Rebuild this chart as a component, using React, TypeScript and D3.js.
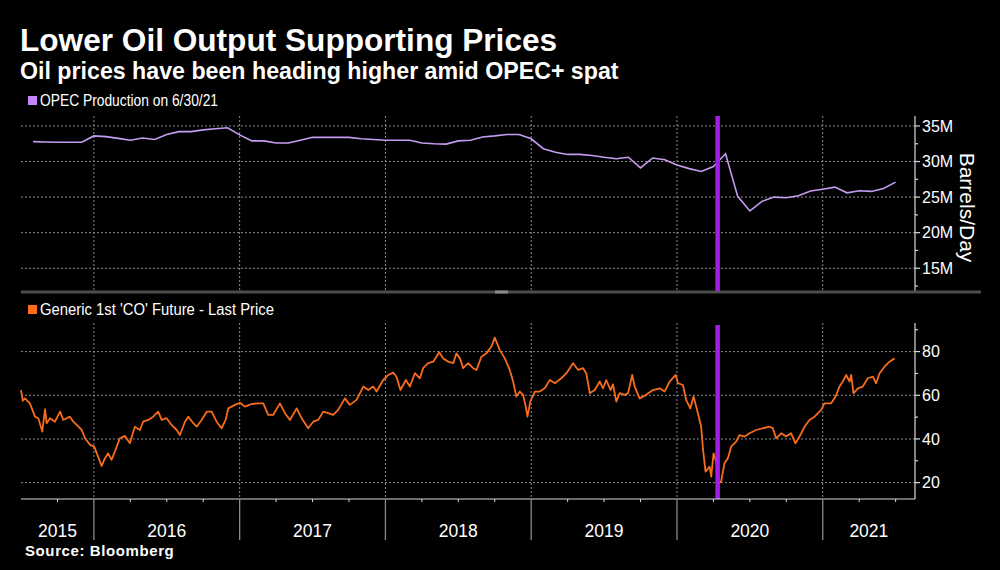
import React from 'react';
import * as d3 from 'd3';

// ---------- DATA ----------
const titleText = 'Lower Oil Output Supporting Prices';
const subtitleText = 'Oil prices have been heading higher amid OPEC+ spat';
const sourceText = 'Source: Bloomberg';
const opecLabel = 'OPEC Production on 6/30/21';
const priceLabel = "Generic 1st 'CO' Future - Last Price";
const unitLabel = 'Barrels/Day';

// OPEC production (million barrels/day), month-end, Jul 2015 .. Jun 2021
const opecStartYear = 2015;
const opecStartMonth = 7;
const opecValues = [
  32.8, 32.75, 32.7, 32.7, 32.7, 33.6,
  33.5, 33.25, 33.0, 33.3, 33.1, 33.8, 34.2, 34.2, 34.45, 34.6, 34.75, 33.75,
  32.9, 32.9, 32.6, 32.6, 33.0, 33.4, 33.4, 33.4, 33.4, 33.2, 33.1, 33.0,
  33.0, 33.0, 32.6, 32.5, 32.45, 32.9, 33.0, 33.45, 33.6, 33.8, 33.8, 33.2,
  31.8, 31.3, 31.0, 31.0, 30.85, 30.6, 30.4, 30.6, 29.1, 30.5, 30.25, 29.5,
  29.0, 28.6, 29.3, 31.1, 25.1, 23.05, 24.4, 25.0, 24.9, 25.2, 25.85, 26.1,
  26.4, 25.6, 25.9, 25.8, 26.2, 27.1,
];

// Brent generic 1st future (USD), time as decimal year
const priceYears = [
  2015.500, 2015.512, 2015.527, 2015.561, 2015.596, 2015.619, 2015.646, 2015.665, 2015.676, 2015.699,
  2015.733, 2015.768, 2015.790, 2015.836, 2015.859, 2015.894, 2015.917, 2015.939, 2015.974, 2016.002,
  2016.029, 2016.053, 2016.075, 2016.098, 2016.121, 2016.144, 2016.178, 2016.213, 2016.247, 2016.281,
  2016.316, 2016.338, 2016.373, 2016.407, 2016.441, 2016.465, 2016.499, 2016.533, 2016.568, 2016.590,
  2016.625, 2016.647, 2016.682, 2016.705, 2016.739, 2016.774, 2016.808, 2016.842, 2016.876, 2016.904,
  2016.922, 2016.968, 2017.002, 2017.036, 2017.082, 2017.127, 2017.162, 2017.196, 2017.230, 2017.276,
  2017.311, 2017.345, 2017.391, 2017.425, 2017.470, 2017.505, 2017.539, 2017.573, 2017.608, 2017.642,
  2017.676, 2017.722, 2017.756, 2017.802, 2017.848, 2017.882, 2017.916, 2017.939, 2017.985, 2018.019,
  2018.053, 2018.076, 2018.103, 2018.140, 2018.168, 2018.202, 2018.236, 2018.259, 2018.293, 2018.328,
  2018.369, 2018.396, 2018.431, 2018.465, 2018.487, 2018.511, 2018.533, 2018.568, 2018.602, 2018.624,
  2018.659, 2018.693, 2018.727, 2018.750, 2018.784, 2018.819, 2018.853, 2018.876, 2018.898, 2018.922,
  2018.944, 2018.963, 2018.974, 2018.994, 2019.025, 2019.059, 2019.093, 2019.128, 2019.162, 2019.207,
  2019.242, 2019.287, 2019.322, 2019.356, 2019.378, 2019.402, 2019.436, 2019.470, 2019.493, 2019.515,
  2019.545, 2019.561, 2019.584, 2019.607, 2019.641, 2019.664, 2019.693, 2019.710, 2019.744, 2019.789,
  2019.835, 2019.881, 2019.915, 2019.950, 2019.991, 2020.007, 2020.041, 2020.063, 2020.091, 2020.114,
  2020.132, 2020.150, 2020.166, 2020.178, 2020.196, 2020.224, 2020.235, 2020.251, 2020.269, 2020.287,
  2020.303, 2020.326, 2020.349, 2020.372, 2020.406, 2020.429, 2020.464, 2020.498, 2020.543, 2020.589,
  2020.635, 2020.658, 2020.680, 2020.715, 2020.749, 2020.783, 2020.813, 2020.841, 2020.875, 2020.909,
  2020.944, 2020.989, 2021.012, 2021.058, 2021.088, 2021.115, 2021.138, 2021.161, 2021.184, 2021.195,
  2021.211, 2021.241, 2021.275, 2021.309, 2021.344, 2021.366, 2021.390, 2021.424, 2021.458, 2021.493,
];
const priceValues = [
  62.4, 57.5, 58.6, 56.3, 50.2, 49.5, 43.4, 53.6, 47.2, 49.5,
  47.9, 52.5, 48.7, 50.2, 47.9, 45.6, 44.1, 40.3, 37.3, 36.5,
  31.9, 27.6, 31.1, 33.4, 30.4, 34.2, 40.3, 41.4, 38.0, 45.6,
  44.1, 47.9, 48.7, 50.2, 52.5, 48.7, 49.5, 46.4, 44.1, 41.8,
  47.9, 50.2, 47.2, 45.6, 48.7, 52.5, 52.5, 47.9, 44.9, 48.7,
  54.0, 55.6, 56.6, 54.8, 56.0, 56.3, 56.3, 51.0, 51.0, 56.3,
  51.8, 48.7, 54.0, 49.5, 44.9, 47.9, 48.7, 52.5, 51.8, 51.0,
  53.3, 58.6, 55.6, 57.9, 64.0, 62.4, 64.0, 61.7, 67.0, 69.3,
  70.4, 68.5, 62.4, 67.0, 64.0, 70.1, 67.8, 72.4, 74.7, 75.4,
  79.7, 76.9, 75.4, 74.7, 79.2, 76.9, 72.4, 74.7, 72.4, 71.6,
  77.7, 79.2, 82.3, 86.4, 80.8, 76.9, 71.6, 66.3, 59.4, 61.7,
  60.2, 54.8, 50.2, 57.1, 61.7, 61.7, 63.2, 67.0, 65.5, 67.8,
  70.1, 74.7, 71.6, 72.4, 70.1, 60.9, 62.4, 66.3, 63.2, 67.0,
  62.4, 65.0, 57.1, 61.0, 60.2, 60.9, 69.3, 64.0, 58.6, 60.2,
  62.4, 63.2, 61.7, 66.3, 69.3, 65.5, 64.7, 57.9, 54.0, 59.4,
  54.8, 50.2, 45.6, 35.7, 25.0, 27.3, 22.7, 33.4, 29.6, 19.7,
  20.5, 28.9, 31.1, 36.5, 38.8, 41.8, 41.1, 42.6, 44.1, 44.9,
  45.6, 44.9, 40.3, 42.6, 41.1, 42.6, 38.0, 41.1, 45.6, 48.7,
  50.2, 53.3, 56.3, 56.3, 59.4, 64.0, 66.3, 69.3, 66.3, 69.3,
  60.9, 63.2, 64.0, 67.8, 68.5, 65.5, 70.1, 73.1, 75.4, 76.9,
];

const yearLabels = ['2015', '2016', '2017', '2018', '2019', '2020', '2021'];
const topTicks = [15, 20, 25, 30, 35];
const topMinorTicks = [12.5, 17.5, 22.5, 27.5, 32.5];
const bottomTicks = [20, 40, 60, 80];
const bottomMinorTicks = [30, 50, 70, 90];
const markerYear = 2020.279; // 12 Apr 2020 OPEC+ agreement

// ---------- LAYOUT ----------
const W = 1000;
const H = 570;
const plotLeft = 21;
const plotRight = 915;
const topY0 = 116;
const topY1 = 291;
const botY0 = 323;
const botY1 = 499;

const PURPLE_LINE = '#c69cf2';
const PURPLE_MARK = '#a21ee8';
const ORANGE = '#f76c1c';
const GRID = '#8c8c8c';
const AXIS = '#d8d8d8';
const SANS = "'Liberation Sans', Arial, sans-serif";

export default function App() {
  const x = d3.scaleLinear().domain([2015.5, 2021.633]).range([plotLeft, plotRight]);
  const yTop = d3.scaleLinear().domain([11.8, 36.4]).range([topY1, topY0]);
  const yBot = d3.scaleLinear().domain([12.5, 93.1]).range([botY1, botY0]);

  const opecPts = opecValues.map((v, i) => ({
    t: opecStartYear + (opecStartMonth + i) / 12,
    v,
  }));
  const pricePts = priceYears.map((t, i) => ({ t, v: priceValues[i] }));

  const opecLine = d3.line<{ t: number; v: number }>()
    .x((d) => x(d.t))
    .y((d) => yTop(d.v));
  const priceLine = d3.line<{ t: number; v: number }>()
    .x((d) => x(d.t))
    .y((d) => yBot(d.v));

  const years = yearLabels.map((s) => +s);
  const boundaries = years.filter((y) => y > 2015.5 && y < 2021.633);
  const quarterTicks: number[] = [];
  years.forEach((y) => {
    [0.25, 0.5, 0.75].forEach((q) => {
      const t = y + q;
      if (t > 2015.5 && t < 2021.63) quarterTicks.push(t);
    });
  });
  const [d0, d1] = x.domain();

  return (
    <svg
      width={W}
      height={H}
      style={{ position: 'absolute', left: 0, top: 0, background: '#000' }}
    >
      <rect x={0} y={0} width={W} height={H} fill="#000" />

      {/* titles */}
      <text x={20} y={51} fill="#fff" fontFamily={SANS} fontWeight="bold" fontSize={31.6}>
        {titleText}
      </text>
      <text x={20} y={78.5} fill="#fff" fontFamily={SANS} fontWeight="bold" fontSize={23.2}>
        {subtitleText}
      </text>

      {/* legend top */}
      <rect x={28} y={96} width={9} height={9} fill="#c584ff" />
      <text x={40} y={106} fill="#fff" fontFamily={SANS} fontSize={16}
        textLength={178} lengthAdjust="spacingAndGlyphs">
        {opecLabel}
      </text>

      {/* top panel grid */}
      {topTicks.map((t) => (
        <line key={'tg' + t} x1={plotLeft} x2={plotRight} y1={yTop(t)} y2={yTop(t)}
          stroke={GRID} strokeWidth={1} strokeDasharray="2,2" />
      ))}
      {boundaries.map((b) => (
        <line key={'tv' + b} x1={x(b)} x2={x(b)} y1={topY0} y2={topY1}
          stroke={GRID} strokeWidth={1} strokeDasharray="2,2" />
      ))}

      {/* top right axis */}
      <line x1={plotRight} x2={plotRight} y1={topY0} y2={topY1} stroke={AXIS} strokeWidth={1.2} />
      {topTicks.map((t) => (
        <g key={'tt' + t}>
          <line x1={plotRight} x2={plotRight + 5} y1={yTop(t)} y2={yTop(t)} stroke={AXIS} strokeWidth={1.2} />
          <text x={plotRight + 7} y={yTop(t)} dy="0.36em" fill="#fff" fontFamily={SANS} fontSize={16}>
            {t + 'M'}
          </text>
        </g>
      ))}
      {topMinorTicks.map((t) => (
        <line key={'tm' + t} x1={plotRight} x2={plotRight + 3} y1={yTop(t)} y2={yTop(t)} stroke={AXIS} strokeWidth={1.2} />
      ))}
      <text
        transform={`translate(${960},${(topY0 + topY1) / 2 + 4}) rotate(90)`}
        textAnchor="middle"
        fill="#fff"
        fontFamily={SANS}
        fontSize={21}
      >
        {unitLabel}
      </text>

      {/* OPEC line */}
      <path d={opecLine(opecPts) || ''} fill="none" stroke={PURPLE_LINE} strokeWidth={1.6} />

      {/* panel divider */}
      <rect x={plotLeft} y={290.5} width={981 - plotLeft} height={3} fill="#4d4d4d" />
      <rect x={495} y={290.5} width={13} height={3} fill="#8a8a8a" />

      {/* legend bottom */}
      <rect x={28} y={305} width={9} height={9} fill="#ff6a16" />
      <text x={40} y={315} fill="#fff" fontFamily={SANS} fontSize={16}
        textLength={234} lengthAdjust="spacingAndGlyphs">
        {priceLabel}
      </text>

      {/* bottom grid */}
      {bottomTicks.map((t) => (
        <line key={'bg' + t} x1={plotLeft} x2={plotRight} y1={yBot(t)} y2={yBot(t)}
          stroke={GRID} strokeWidth={1} strokeDasharray="2,2" />
      ))}
      {boundaries.map((b) => (
        <line key={'bv' + b} x1={x(b)} x2={x(b)} y1={botY0} y2={botY1}
          stroke={GRID} strokeWidth={1} strokeDasharray="2,2" />
      ))}

      {/* bottom right axis */}
      <line x1={plotRight} x2={plotRight} y1={botY0} y2={botY1} stroke={AXIS} strokeWidth={1.2} />
      {bottomTicks.map((t) => (
        <g key={'bt' + t}>
          <line x1={plotRight} x2={plotRight + 5} y1={yBot(t)} y2={yBot(t)} stroke={AXIS} strokeWidth={1.2} />
          <text x={plotRight + 7} y={yBot(t)} dy="0.36em" fill="#fff" fontFamily={SANS} fontSize={16}>
            {t}
          </text>
        </g>
      ))}
      {bottomMinorTicks.map((t) => (
        <line key={'bm' + t} x1={plotRight} x2={plotRight + 3} y1={yBot(t)} y2={yBot(t)} stroke={AXIS} strokeWidth={1.2} />
      ))}

      {/* price line */}
      <path d={priceLine(pricePts) || ''} fill="none" stroke={ORANGE} strokeWidth={1.8} strokeLinejoin="round" />

      {/* marker */}
      <line x1={x(markerYear)} x2={x(markerYear)} y1={topY0} y2={topY1} stroke={PURPLE_MARK} strokeWidth={4.5} />
      <line x1={x(markerYear)} x2={x(markerYear)} y1={botY0 + 2} y2={botY1} stroke={PURPLE_MARK} strokeWidth={4.5} />

      {/* x axis */}
      <line x1={plotLeft} x2={plotRight} y1={botY1} y2={botY1} stroke={AXIS} strokeWidth={1.2} />
      {quarterTicks.map((q) => (
        <line key={'q' + q} x1={x(q)} x2={x(q)} y1={botY1} y2={botY1 + 3} stroke={AXIS} strokeWidth={1} />
      ))}
      {boundaries.map((b) => (
        <line key={'yb' + b} x1={x(b)} x2={x(b)} y1={botY1} y2={540} stroke="#8a8a8a" strokeWidth={1.3} />
      ))}
      {years.map((y) => {
        const a = Math.max(y, d0);
        const b = Math.min(y + 1, d1);
        return (
          <text key={'yl' + y} x={(x(a) + x(b)) / 2} y={537} textAnchor="middle" fill="#fff"
            fontFamily={SANS} fontSize={17.5}>
            {String(y)}
          </text>
        );
      })}

      <text x={25} y={556} fill="#fff" fontFamily={SANS} fontWeight="bold" fontSize={15} letterSpacing={0.6}>
        {sourceText}
      </text>
    </svg>
  );
}
